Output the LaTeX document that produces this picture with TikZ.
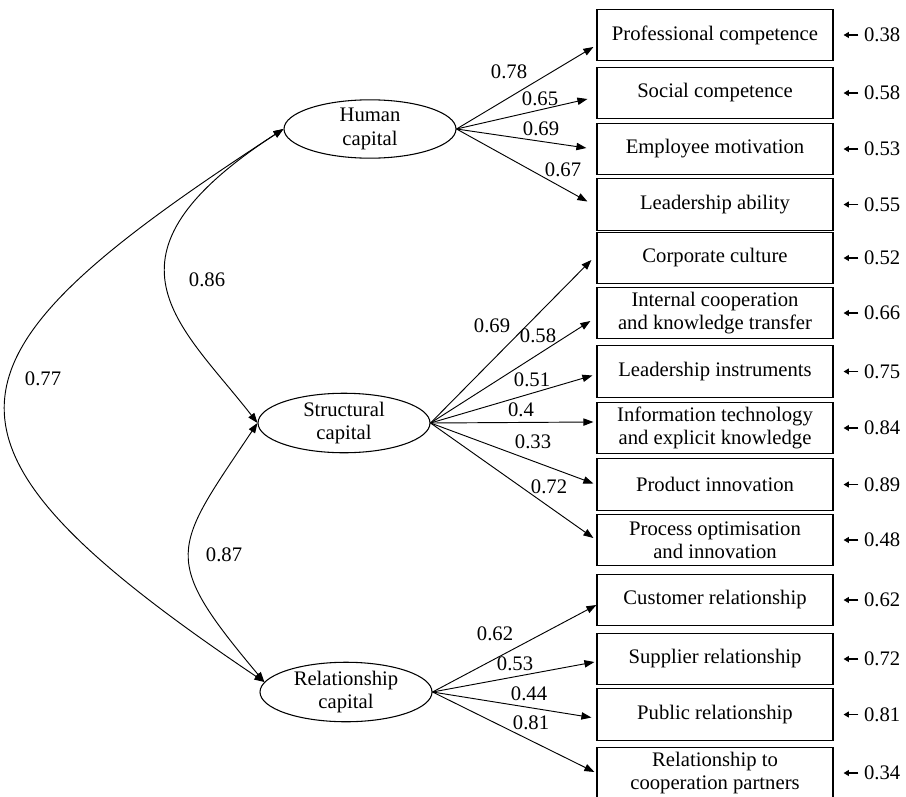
\documentclass[tikz,border=0pt]{standalone}
\usepackage{fontspec}
\setmainfont{Liberation Serif}
\usetikzlibrary{arrows.meta,shapes.geometric,positioning}

\begin{document}
\begin{tikzpicture}[x=0.75pt, y=-0.75pt, line width=0.7pt,
      >={Triangle[length=7.5pt,width=5.5pt]},
      every node/.append style={font=\fontsize{15.5}{17.5}\selectfont},
      latent/.style={draw,ellipse,line width=0.8pt,inner sep=0pt,minimum width=129pt,minimum height=43pt,align=center},
      indicator/.style={draw,rectangle,line width=0.9pt,inner sep=2pt,minimum width=177pt,minimum height=38.5pt,align=center},
      errarrow/.style={-{Triangle[length=4pt,width=4.5pt]},line width=0.8pt}]
    \tikzstyle{loading} = [->]
    \tikzstyle{corr} = [<->]
    \useasboundingbox (0,0) rectangle (906,796);

    % latent factors
    \node[latent] (human) at (370,129) {Human\\capital};
    \node[latent] (struct) at (344,423) {Structural\\capital};
    \node[latent] (relat) at (346,692) {Relationship\\capital};

    % observed indicators with residuals
    \foreach \name/\y/\txt/\res in {
        pc/35/{Professional competence}/0.38,
        sc/93/{Social competence}/0.58,
        em/149/{Employee motivation}/0.53,
        la/204.5/{Leadership ability}/0.55,
        cc/258/{Corporate culture}/0.52,
        ic/313/{Internal cooperation\\and knowledge transfer}/0.66,
        li/371.5/{Leadership instruments}/0.75,
        it/428/{Information technology\\and explicit knowledge}/0.84,
        pi/484.5/{Product innovation}/0.89,
        po/540/{Process optimisation\\and innovation}/0.48,
        cr/600/{Customer relationship}/0.62,
        sr/659/{Supplier relationship}/0.72,
        pr/714.5/{Public relationship}/0.81,
        rc/773/{Relationship to\\cooperation partners}/0.34}
    {
      \node[indicator] (\name) at (715,\y) {\txt};
      \node[inner sep=0pt,right=22.5pt of \name] (e\name) {\res};
      \draw[errarrow] ([xshift=-4pt]e\name.west) -- ([xshift=7.5pt]\name.east);
    }

    % factor loadings
    \foreach \src/\dst/\dx/\dy/\val/\lx/\ly in {
        human/pc/-3/12/0.78/509/72,
        human/sc/-9/6/0.65/540/99,
        human/em/-10/-1/0.69/541/129,
        human/la/-9/-3/0.67/563/170,
        struct/cc/-5/2/0.69/492/326,
        struct/ic/-6/8/0.58/538/336,
        struct/li/-4/4/0.51/532/380,
        struct/it/-3/-6/0.4/521/410,
        struct/pi/-3/-1/0.33/533/442,
        struct/po/-3/-2/0.72/549/487,
        relat/cr/0/5/0.62/495/634,
        relat/sr/-2/3/0.53/515/664,
        relat/pr/-5/3/0.44/529/694,
        relat/rc/-2/-1/0.81/531/723}
    {
      \draw[loading] (\src.east) -- ([shift={(\dx,\dy)}]\dst.west);
      \node (l\dst) at (\lx,\ly) {\val};
    }

    % correlations between factors
    \draw[corr] (human.west) .. controls +(-197,128) and +(-77,-99) .. (struct.west);
    \draw[corr] (human.west) .. controls +(-352,229) and +(-361,-243) .. (relat.173);
    \draw[corr] (struct.west) .. controls +(-85,127) and +(-105,-125) .. (relat.173);
    \node (hs) at (207,280) {0.86};
    \node (hr) at (43,379) {0.77};
    \node (sr) at (224,555) {0.87};
\end{tikzpicture}
\end{document}
